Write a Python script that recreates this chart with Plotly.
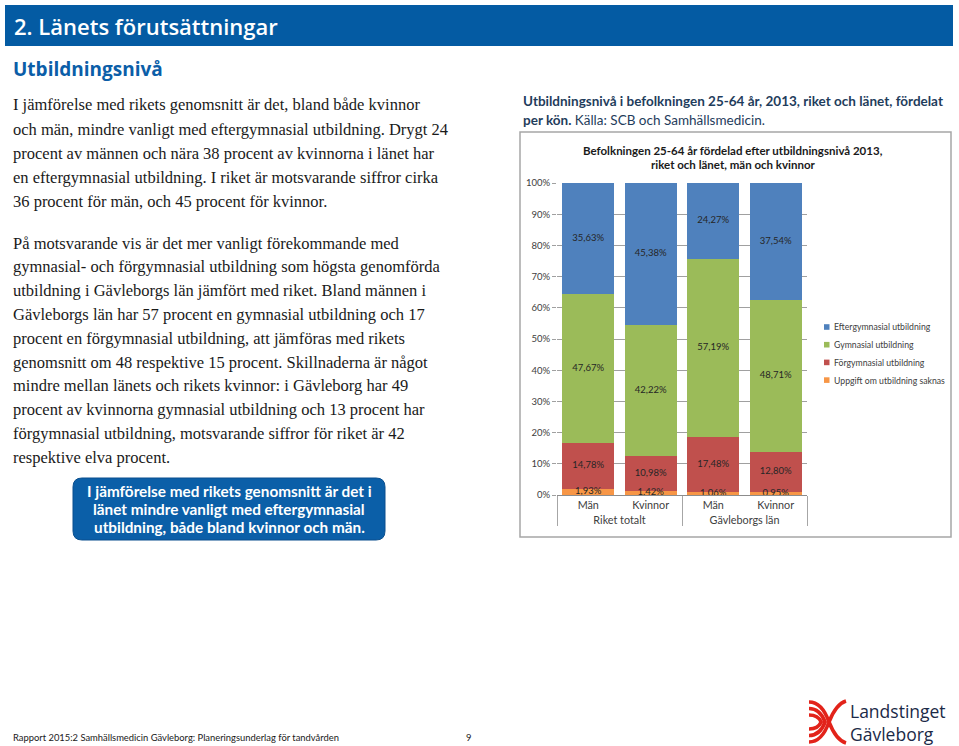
import numpy as np
import plotly.graph_objects as go

W, H = 959, 746

# ── Data ─────────────────────────────────────────────────────
groups = ["Riket totalt", "Riket totalt", "Gävleborgs län", "Gävleborgs län"]
sexes  = ["Män", "Kvinnor", "Män", "Kvinnor"]

series_names = ["Uppgift om utbildning saknas", "Förgymnasial utbildning",
                "Gymnasial utbildning", "Eftergymnasial utbildning"]
saknas = [1.93, 1.42, 1.06, 0.95]
forgym = [14.78, 10.98, 17.48, 12.80]
gym    = [47.67, 42.22, 57.19, 48.71]
efter  = [35.63, 45.38, 24.27, 37.54]
colors = ["#F79646", "#C0504D", "#9BBB59", "#4F81BD"]

para1 = [
    "I jämförelse med rikets genomsnitt är det, bland både kvinnor",
    "och män, mindre vanligt med eftergymnasial utbildning. Drygt 24",
    "procent av männen och nära 38 procent av kvinnorna i länet har",
    "en eftergymnasial utbildning. I riket är motsvarande siffror cirka",
    "36 procent för män, och 45 procent för kvinnor.",
]
para2 = [
    "På motsvarande vis är det mer vanligt förekommande med",
    "gymnasial- och förgymnasial utbildning som högsta genomförda",
    "utbildning i Gävleborgs län jämfört med riket. Bland männen i",
    "Gävleborgs län har 57 procent en gymnasial utbildning och 17",
    "procent en förgymnasial utbildning, att jämföras med rikets",
    "genomsnitt om 48 respektive 15 procent. Skillnaderna är något",
    "mindre mellan länets och rikets kvinnor: i Gävleborg har 49",
    "procent av kvinnorna gymnasial utbildning och 13 procent har",
    "förgymnasial utbildning, motsvarande siffror för riket är 42",
    "respektive elva procent.",
]
callout = ["I jämförelse med rikets genomsnitt är det i",
           "länet mindre vanligt med eftergymnasial",
           "utbildning, både bland kvinnor och män."]


def px(x):
    return x / W


def py(y):
    return 1 - y / H


def pct(v):
    return f"{v:.2f}".replace(".", ",") + "%"


# ── Chart ────────────────────────────────────────────────────
fig = go.Figure()
xcat = [groups, sexes]
stack = [saknas, forgym, gym, efter]

for name, vals, col in zip(series_names, stack, colors):
    fig.add_trace(go.Bar(
        x=xcat, y=vals, name=name, marker=dict(color=col, line=dict(width=0)),
        showlegend=False,
    ))

# data labels at the middle of each segment
cum = np.cumsum(np.array(stack), axis=0)
mids = cum - np.array(stack) / 2
for vals, m in zip(stack, mids):
    fig.add_trace(go.Scatter(
        x=xcat, y=list(m), mode="text", text=[pct(v) for v in vals],
        textfont=dict(family="Lato", size=9.5, color="#262626"),
        showlegend=False, hoverinfo="skip",
    ))

fig.update_layout(
    width=W, height=H, margin=dict(l=0, r=0, t=0, b=0, autoexpand=False),
    paper_bgcolor="white", plot_bgcolor="white",
    barmode="stack", bargap=0.17,
    xaxis=dict(
        domain=[px(557), px(807)], type="multicategory",
        tickfont=dict(family="Lato", size=10.8, color="#404040"),
        showline=True, linecolor="#8c8c8c", linewidth=1,
        showdividers=True, dividercolor="#a6a6a6", dividerwidth=1,
        ticks="", showgrid=False,
    ),
    yaxis=dict(
        domain=[py(495), py(183)], range=[0, 100], dtick=10, ticksuffix="%",
        tickfont=dict(family="Lato", size=9.5, color="#404040"),
        showgrid=True, gridcolor="#a0a0a0", gridwidth=1, zeroline=False,
        ticks="outside", ticklen=4, tickcolor="#a0a0a0", showline=False,
    ),
    font=dict(family="Lato"),
)

shapes = []
ann = []

# header bar
shapes.append(dict(type="rect", xref="paper", yref="paper",
                   x0=px(5), x1=px(953), y0=py(46), y1=py(5),
                   fillcolor="#045ba3", line=dict(width=0), layer="below"))
ann.append(dict(text="2. Länets förutsättningar", x=px(12), y=py(26),
                font=dict(family="Open Sans", size=22, color="white", weight=600)))
ann.append(dict(text="<b>Utbildningsnivå</b>", x=px(11), y=py(69),
                font=dict(family="Open Sans", size=19, color="#0b5ea8")))

# body text
for i, line in enumerate(para1):
    ann.append(dict(text=line, x=px(11), y=py(105 + 24 * i),
                    font=dict(family="Liberation Serif", size=16.5, color="#1a1a1a")))
for i, line in enumerate(para2):
    ann.append(dict(text=line, x=px(11), y=py(243 + 23.8 * i),
                    font=dict(family="Liberation Serif", size=16.5, color="#1a1a1a")))

# callout box
x0, x1, y0, y1, r = 73, 385, 478, 540, 9
path = (f"M {px(x0 + r)},{py(y0)} L {px(x1 - r)},{py(y0)} "
        f"Q {px(x1)},{py(y0)} {px(x1)},{py(y0 + r)} L {px(x1)},{py(y1 - r)} "
        f"Q {px(x1)},{py(y1)} {px(x1 - r)},{py(y1)} L {px(x0 + r)},{py(y1)} "
        f"Q {px(x0)},{py(y1)} {px(x0)},{py(y1 - r)} L {px(x0)},{py(y0 + r)} "
        f"Q {px(x0)},{py(y0)} {px(x0 + r)},{py(y0)} Z")
shapes.append(dict(type="path", xref="paper", yref="paper", path=path,
                   fillcolor="#0b5fa8", line=dict(color="#0a4f8e", width=1)))
for i, line in enumerate(callout):
    ann.append(dict(text=f"<b>{line}</b>", x=px(229), y=py(491 + 18 * i), xanchor="center",
                    font=dict(family="Lato", size=15.3, color="white")))

# chart caption
ann.append(dict(text="<b>Utbildningsnivå i befolkningen 25-64 år, 2013, riket och länet, fördelat</b>",
                x=px(521), y=py(101),
                font=dict(family="Lato", size=13.5, color="#1f3d5c")))
ann.append(dict(text="<b>per kön.</b> Källa: SCB och Samhällsmedicin.",
                x=px(521), y=py(120),
                font=dict(family="Lato", size=13.5, color="#1f3d5c")))

# chart frame and title
shapes.append(dict(type="rect", xref="paper", yref="paper",
                   x0=px(520), x1=px(951), y0=py(537), y1=py(132),
                   line=dict(color="#a6a6a6", width=1.5), fillcolor="rgba(0,0,0,0)"))
ann.append(dict(text="<b>Befolkningen 25-64 år fördelad efter utbildningsnivå 2013,</b>",
                x=px(733), y=py(150), xanchor="center",
                font=dict(family="Lato", size=11.5, color="#1a1a1a")))
ann.append(dict(text="<b>riket och länet, män och kvinnor</b>",
                x=px(733), y=py(164), xanchor="center",
                font=dict(family="Lato", size=11.5, color="#1a1a1a")))

# legend (top item first)
for i, (name, col) in enumerate(zip(series_names[::-1], colors[::-1])):
    yc = 327 + 17.7 * i
    shapes.append(dict(type="rect", xref="paper", yref="paper",
                       x0=px(824), x1=px(829.5), y0=py(yc + 2.8), y1=py(yc - 2.8),
                       fillcolor=col, line=dict(width=0)))
    ann.append(dict(text=name, x=px(831.5), y=py(yc),
                    font=dict(family="Lato", size=8.7, color="#404040")))

# footer
ann.append(dict(text="Rapport 2015:2 Samhällsmedicin Gävleborg: Planeringsunderlag för tandvården",
                x=px(11), y=py(737), font=dict(family="Lato", size=9.4, color="#1a1a1a")))
ann.append(dict(text="9", x=px(468), y=py(737), xanchor="center",
                font=dict(family="Lato", size=9.4, color="#1a1a1a")))

# logo: red stripes + name
red = "#e2231a"
for k in range(3):
    o = 6.5 * k
    shapes.append(dict(type="path", xref="paper", yref="paper",
                       path=(f"M {px(809)},{py(702 + o)} Q {px(822 - o * 0.3)},{py(702 + o)} "
                             f"{px(829 - o * 0.6)},{py(722)} Q {px(822 - o * 0.3)},{py(742 - o)} "
                             f"{px(809)},{py(742 - o)}"),
                       line=dict(color=red, width=3.6)))
shapes.append(dict(type="path", xref="paper", yref="paper",
                   path=f"M {px(829)},{py(722)} Q {px(836)},{py(704)} {px(846)},{py(701)}",
                   line=dict(color=red, width=3.6)))
shapes.append(dict(type="path", xref="paper", yref="paper",
                   path=f"M {px(829)},{py(722)} Q {px(836)},{py(740)} {px(846)},{py(743)}",
                   line=dict(color=red, width=3.6)))
ann.append(dict(text="Landstinget", x=px(848), y=py(711),
                font=dict(family="Open Sans", size=17.5, color="#1b2a47", weight=500)))
ann.append(dict(text="Gävleborg", x=px(848), y=py(734),
                font=dict(family="Open Sans", size=17.5, color="#1b2a47", weight=500)))

for a in ann:
    a.setdefault("xref", "paper")
    a.setdefault("yref", "paper")
    a.setdefault("xanchor", "left")
    a.setdefault("yanchor", "middle")
    a.setdefault("showarrow", False)

fig.update_layout(shapes=shapes, annotations=ann)
fig.write_html("out.html", config={"displayModeBar": False},
               post_script="document.body.style.margin='0';")
